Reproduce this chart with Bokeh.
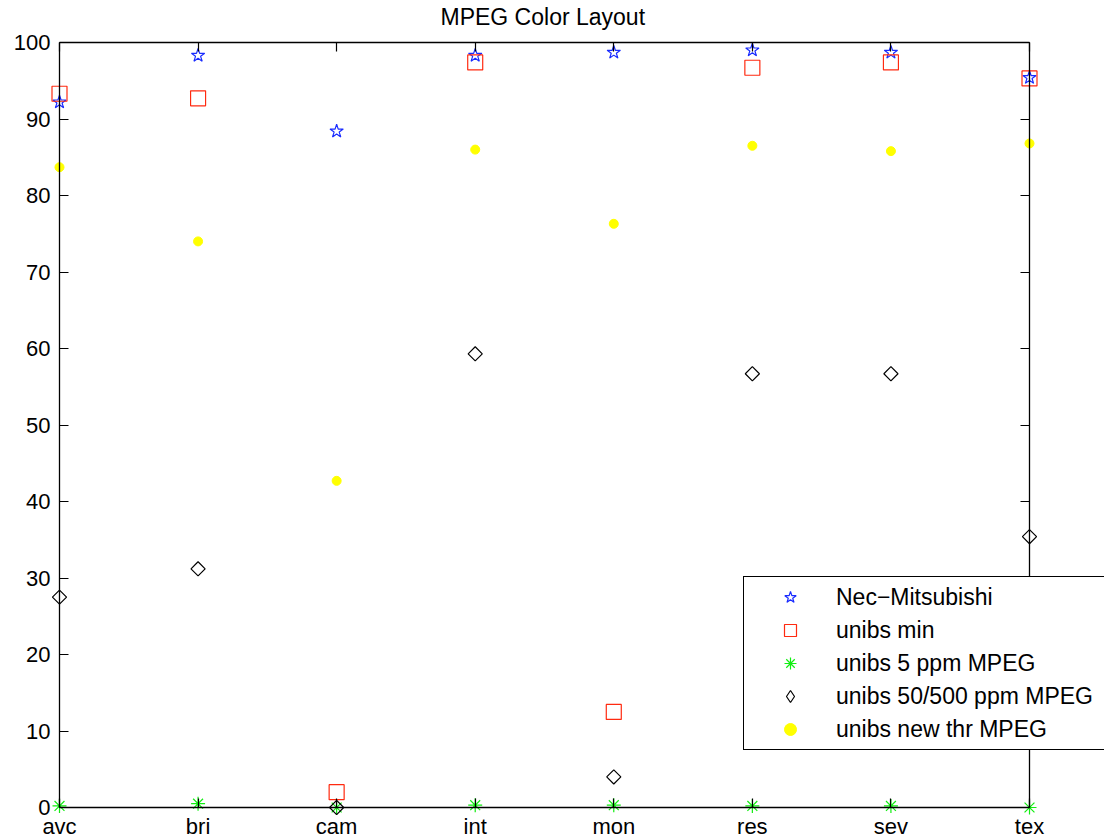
import numpy as np
from bokeh.plotting import figure
from bokeh.models import Range1d, LinearAxis, FixedTicker, Legend, LegendItem, ColumnDataSource
from bokeh.embed import file_html
from bokeh.resources import INLINE

# ---- data ----
categories = ["avc", "bri", "cam", "int", "mon", "res", "sev", "tex"]
nec_mitsubishi = [92.2, 98.3, 88.4, 98.3, 98.7, 99.0, 98.7, 95.4]
unibs_min = [93.3, 92.7, 2.0, 97.4, 12.5, 96.7, 97.4, 95.3]
unibs_5ppm = [0.2, 0.5, 0.0, 0.3, 0.3, 0.2, 0.2, 0.0]
unibs_50_500ppm = [27.5, 31.2, 0.0, 59.3, 4.0, 56.7, 56.7, 35.4]
unibs_new_thr = [83.7, 74.0, 42.7, 86.0, 76.3, 86.5, 85.8, 86.8]
y_ticks = [0, 10, 20, 30, 40, 50, 60, 70, 80, 90, 100]
series_labels = ["Nec\u2212Mitsubishi", "unibs min", "unibs 5 ppm MPEG",
                 "unibs 50/500 ppm MPEG", "unibs new thr MPEG"]

x = list(range(1, len(categories) + 1))
FONT = "Liberation Sans"

# layout (pixels): axis box from x=59..1029, y=42..807 on a 1104x838 canvas
W, H = 1104, 838
BOX_L, BOX_R, BOX_T, BOX_B = 59, 1029, 42, 807
FRAME_T = 29
x_lo, x_hi = 1, 8
y_lo, y_hi = 0, 100
px_x = (BOX_R - BOX_L) / (x_hi - x_lo)
px_y = (BOX_B - BOX_T) / (y_hi - y_lo)
xr = Range1d(x_lo - BOX_L / px_x, x_hi + (W - BOX_R) / px_x)
yr = Range1d(y_lo - (H - BOX_B) / px_y, y_hi + (BOX_T - FRAME_T) / px_y)

p = figure(width=W, height=H, x_range=xr, y_range=yr,
           output_backend="svg", toolbar_location=None, title="MPEG Color Layout",
           min_border_left=0, min_border_right=0, min_border_top=FRAME_T,
           min_border_bottom=0)

p.title.text_font = FONT
p.title.text_font_size = "23px"
p.title.text_font_style = "normal"
p.title.align = "left"
p.title.offset = 440
p.title.text_color = "black"
p.title.standoff = 0

p.xgrid.visible = False
p.ygrid.visible = False
p.outline_line_color = None
p.background_fill_color = "white"
p.border_fill_color = "white"

labels_map = {xi: c for xi, c in zip(x, categories)}

def style_axis(ax, ticks, show_labels, loc, bounds, overrides=None):
    ax.ticker = FixedTicker(ticks=ticks)
    ax.fixed_location = loc
    ax.bounds = bounds
    ax.major_tick_in = 9
    ax.major_tick_out = 0
    ax.minor_tick_line_color = None
    ax.axis_line_color = "black"
    ax.axis_line_width = 1.3
    ax.major_tick_line_color = "black"
    ax.major_tick_line_width = 1.2
    if show_labels:
        ax.major_label_text_font = FONT
        ax.major_label_text_font_size = "22px"
        ax.major_label_text_color = "black"
        if overrides:
            ax.major_label_overrides = overrides
    else:
        ax.major_label_text_font_size = "0px"
        ax.major_label_text_color = None

style_axis(p.xaxis[0], x, True, y_lo, (x_lo, x_hi), labels_map)
p.xaxis[0].major_label_standoff = 6
style_axis(p.yaxis[0], y_ticks, True, x_lo, (y_lo, y_hi))
p.yaxis[0].major_label_standoff = 9

top_axis = LinearAxis()
style_axis(top_axis, x, False, y_hi, (x_lo, x_hi))
p.add_layout(top_axis, "above")
right_axis = LinearAxis()
style_axis(right_axis, y_ticks, False, x_hi, (y_lo, y_hi))
p.add_layout(right_axis, "right")

r1 = p.scatter(x, nec_mitsubishi, marker="star", size=14, fill_color=None,
               line_color="#1a2cff", line_width=1.2)
r2 = p.scatter(x, unibs_min, marker="square", size=15, fill_color=None,
               line_color="#ff2a10", line_width=1.2)
r3 = p.scatter(x, unibs_5ppm, marker="asterisk", size=14, line_color="#11ee11",
               line_width=1.2)
diamond_src = ColumnDataSource(dict(x=x, y=unibs_50_500ppm))
r4 = p.scatter(x="x", y="y", source=diamond_src, marker="square", angle=np.pi / 4,
               size=10, fill_color=None, line_color="black", line_width=1.2)
# legend swatch for the diamond series: legend swatches are drawn unrotated and
# at a size set by the legend, so the key renderer is a zero-size diamond marker
r4_key = p.scatter(x="x", y="y", source=diamond_src, marker="diamond", size=0,
                   fill_color=None, line_color="black", line_width=1.2)
r5 = p.scatter(x, unibs_new_thr, marker="circle", size=9, fill_color="#ffff00",
               line_color="#ffff00")

legend = Legend(
    items=[LegendItem(label=lab, renderers=[r]) for lab, r in
           zip(series_labels, [r1, r2, r3, r4_key, r5])],
    location=(743, 88),
    border_line_color="black", border_line_width=1.3, border_line_alpha=1,
    background_fill_color="white", background_fill_alpha=1,
    label_text_font=FONT, label_text_font_size="23px", label_text_color="black",
    glyph_width=82, glyph_height=30, label_height=30, label_width=400,
    spacing=3, padding=5, margin=0, label_standoff=5,
)
p.add_layout(legend)

open("out.html", "w").write(file_html(p, INLINE))
